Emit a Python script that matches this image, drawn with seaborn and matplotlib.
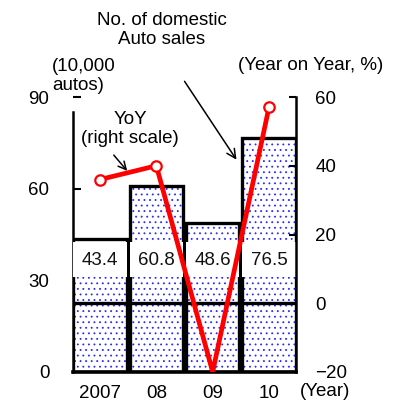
import matplotlib
matplotlib.use("Agg")
import matplotlib.pyplot as plt
from matplotlib.patches import Rectangle
import numpy as np
import pandas as pd
import seaborn as sns

# Domestic auto sales (10,000 units) and year-on-year change (%)
years = ["2007", "08", "09", "10"]
sales = [43.4, 60.8, 48.6, 76.5]
yoy = [36, 40, -20, 57]

left_ticks = [0, 30, 60, 90]
right_ticks = [-20, 0, 20, 40, 60]

sns.set_theme(style="white")
plt.rcParams["font.family"] = ["Liberation Sans", "DejaVu Sans"]
plt.rcParams["text.color"] = "black"
plt.rcParams["hatch.linewidth"] = 0.6
FS = 13.5

df = pd.DataFrame({"year": years, "sales": sales})

W, H = 407, 403
fig = plt.figure(figsize=(W / 100, H / 100), dpi=100)
ax = fig.add_axes([73 / W, 1 - 372 / H, (296 - 73) / W, (372 - 97) / H])

# dotted blue fill, then heavy black outlines
sns.barplot(data=df, x="year", y="sales", ax=ax, color="white",
            edgecolor="#2a2aff", hatch="...", linewidth=0, width=0.95, zorder=1)
sns.barplot(data=df, x="year", y="sales", ax=ax, facecolor="none",
            edgecolor="black", linewidth=2.4, width=0.95, zorder=2)

ax.set_xlim(-0.48, 3.48)
ax.set_ylim(0, 90)
ax.set_yticks(left_ticks)
ax.set_xlabel("")
ax.set_ylabel("")

# white value labels across each bar
n = len(years)
for bar, v in zip(ax.patches[:n], sales):
    ax.add_patch(Rectangle((bar.get_x(), 31), bar.get_width(), 11.5,
                           facecolor="white", edgecolor="none", zorder=3))
    ax.text(bar.get_x() + bar.get_width() / 2, 36.6, f"{v}", ha="center",
            va="center", fontsize=FS, color="#111111", zorder=4)

for s in ["top", "right"]:
    ax.spines[s].set_visible(False)
ax.spines["left"].set_linewidth(1.8)
ax.spines["left"].set_color("black")
ax.spines["left"].set_bounds(0, 85)
ax.spines["bottom"].set_linewidth(2.6)
ax.spines["bottom"].set_color("black")
ax.tick_params(axis="y", direction="in", length=6, width=1.5, colors="black",
               labelsize=FS, pad=17)
ax.tick_params(axis="x", length=0, labelsize=FS, pad=9, colors="black")
ax.yaxis.get_major_ticks()[-1].tick1line.set_visible(False)

# year-on-year line on the right scale
ax2 = ax.twinx()
ax2.set_ylim(-20, 60)
ax2.set_yticks(right_ticks)
ax2.axhline(0, color="black", lw=2.4, zorder=1)
sns.lineplot(x=np.arange(n), y=yoy, ax=ax2, color="red", lw=3.4,
             marker="o", markersize=7.5, markerfacecolor="white",
             markeredgecolor="red", markeredgewidth=1.6,
             markevery=[0, 1, 3], zorder=5)
for s in ["top", "left", "bottom"]:
    ax2.spines[s].set_visible(False)
ax2.spines["right"].set_linewidth(1.8)
ax2.spines["right"].set_color("black")
ax2.tick_params(axis="y", direction="in", length=5, width=1.5, colors="black",
                labelsize=FS, pad=14)
ax2.set_ylabel("")

# annotations
fig.text(162 / W, 1 - 30 / H, "No. of domestic\nAuto sales", ha="center",
         va="center", fontsize=FS, linespacing=1.2)
fig.text(52 / W, 1 - 76 / H, "(10,000\nautos)", ha="left", va="center",
         fontsize=FS, linespacing=1.2)
fig.text(238 / W, 1 - 66 / H, "(Year on Year, %)", ha="left", va="center",
         fontsize=FS)
fig.text(130 / W, 1 - 129 / H, "YoY\n(right scale)", ha="center",
         va="center", fontsize=FS, linespacing=1.1)
fig.text(300 / W, 1 - 392 / H, "(Year)", ha="left", va="center", fontsize=FS)

ax2.annotate("", xy=(238, H - 162), xytext=(183, H - 79),
             xycoords="figure pixels", textcoords="figure pixels",
             arrowprops=dict(arrowstyle="->", lw=1.1, color="black",
                             mutation_scale=16))
ax2.annotate("", xy=(129, H - 173), xytext=(112, H - 153),
             xycoords="figure pixels", textcoords="figure pixels",
             arrowprops=dict(arrowstyle="->", lw=1.1, color="black",
                             mutation_scale=14))

fig.savefig("out.png", dpi=100)
